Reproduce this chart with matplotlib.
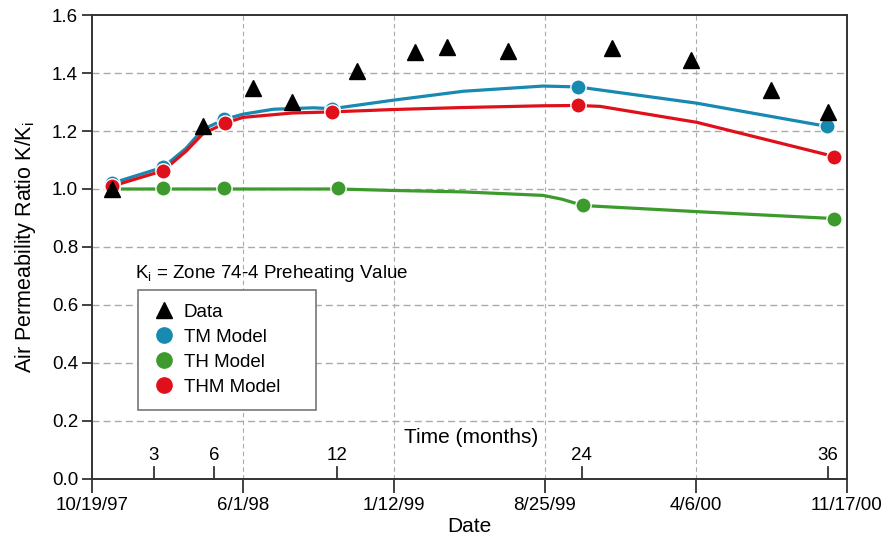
import pandas as pd
import numpy as np
import matplotlib
matplotlib.use('Agg')
import matplotlib.pyplot as plt
from matplotlib.lines import Line2D

plt.rcParams['font.family'] = ['Liberation Sans', 'DejaVu Sans']

START = pd.Timestamp('1997-10-19')

# measured permeability ratio (days after start, K/Ki)
data_days = [30, 165, 240, 298, 395, 481, 529, 620, 775, 893, 1012, 1097]
data_vals = [1.0, 1.216, 1.347, 1.30, 1.406, 1.472, 1.489, 1.476, 1.485, 1.444, 1.341, 1.265]

# model output curves
tm_curve_days = [30, 106, 140, 165, 197, 225, 270, 330, 358, 448, 553, 672, 724, 901, 1095]
tm_curve_vals = [1.02, 1.075, 1.14, 1.205, 1.24, 1.258, 1.275, 1.28, 1.277, 1.306, 1.337, 1.355, 1.352, 1.296, 1.216]
th_curve_days = [30, 106, 196, 367, 448, 553, 672, 700, 732, 901, 1106]
th_curve_vals = [1.0, 1.0, 1.0, 1.0, 0.995, 0.99, 0.978, 0.965, 0.943, 0.922, 0.898]
thm_curve_days = [30, 106, 140, 165, 198, 225, 298, 358, 448, 553, 672, 724, 757, 901, 1106]
thm_curve_vals = [1.01, 1.063, 1.13, 1.19, 1.227, 1.247, 1.262, 1.266, 1.274, 1.281, 1.287, 1.288, 1.285, 1.23, 1.112]

# model output at the reported times
tm_days = [30, 106, 197, 358, 724, 1095]
tm_vals = [1.02, 1.075, 1.24, 1.277, 1.352, 1.216]
th_days = [30, 106, 196, 367, 732, 1106]
th_vals = [1.0, 1.002, 1.002, 1.002, 0.944, 0.897]
thm_days = [30, 106, 198, 358, 724, 1106]
thm_vals = [1.01, 1.063, 1.227, 1.266, 1.288, 1.112]

date_ticks = ['10/19/97', '6/1/98', '1/12/99', '8/25/99', '4/6/00', '11/17/00']
month_ticks = [3, 6, 12, 24, 36]
y_ticks = [0.0, 0.2, 0.4, 0.6, 0.8, 1.0, 1.2, 1.4, 1.6]

BLUE = '#1889b0'
GREEN = '#3c9b2c'
RED = '#e0101a'


def to_dates(days):
    return START + pd.to_timedelta(days, unit='D')


fig = plt.figure(figsize=(8.83, 5.38), dpi=100)
ax = fig.add_axes([0.1042, 0.1097, 0.855, 0.8624])

tick_dates = pd.to_datetime(date_ticks, format='%m/%d/%y')
ax.set_xlim(tick_dates[0], tick_dates[-1])
ax.set_ylim(0, 1.6)

# grid
for y in y_ticks[1:-1]:
    ax.axhline(y, color='#aaaaaa', lw=1.0, ls=(0, (5, 3)), zorder=0)
for d in tick_dates[1:-1]:
    ax.axvline(d, color='#aaaaaa', lw=0.8, ls=(0, (4, 3)), zorder=0)

for days, vals, c in [(th_curve_days, th_curve_vals, GREEN),
                      (tm_curve_days, tm_curve_vals, BLUE),
                      (thm_curve_days, thm_curve_vals, RED)]:
    ax.plot(to_dates(days), vals, color=c, lw=2.3, solid_capstyle='round', zorder=2)

for days, vals, c in [(th_days, th_vals, GREEN),
                      (tm_days, tm_vals, BLUE),
                      (thm_days, thm_vals, RED)]:
    ax.plot(to_dates(days), vals, 'o', color=c, ms=11, mec='white', mew=1.0, zorder=3)

ax.plot(to_dates(data_days), data_vals, '^', color='black', ms=11.5, ls='none', zorder=4)

ax.set_xticks(tick_dates)
ax.set_xticklabels(date_ticks)
ax.set_yticks(y_ticks)
ax.set_yticklabels(['%.1f' % v for v in y_ticks])
ax.tick_params(axis='both', labelsize=13.5, direction='out', width=1.3, color='#333333')
ax.tick_params(axis='x', length=10, pad=3)
ax.tick_params(axis='y', length=7, pad=3)
for s in ax.spines.values():
    s.set_color('#333333')
    s.set_linewidth(1.4)

# elapsed time ticks inside the axes
for m in month_ticks:
    d = START + pd.DateOffset(months=m)
    ax.plot([d, d], [0, 0.042], color='#333333', lw=1.3, clip_on=False, zorder=5)
    ax.text(d, 0.052, str(m), ha='center', va='bottom', fontsize=13.5)
ax.text(START + pd.Timedelta(days=565), 0.11, 'Time (months)', ha='center',
        va='bottom', fontsize=15)

ax.set_xlabel('Date', fontsize=15, labelpad=2)
ax.set_ylabel('Air Permeability Ratio K/K$_\\mathregular{i}$', fontsize=15.5, labelpad=10)

ax.text(START + pd.Timedelta(days=64), 0.71, 'K$_\\mathregular{i}$ = Zone 74-4 Preheating Value',
        fontsize=13.5, va='center', ha='left')

handles = [
    Line2D([], [], marker='^', color='black', ls='none', ms=11),
    Line2D([], [], marker='o', color=BLUE, ls='none', ms=11),
    Line2D([], [], marker='o', color=GREEN, ls='none', ms=11),
    Line2D([], [], marker='o', color=RED, ls='none', ms=11),
]
leg = ax.legend(handles, ['Data', 'TM Model', 'TH Model', 'THM Model'],
                loc='upper left', bbox_to_anchor=(0.061, 0.0, 0.236, 0.408),
                mode='expand', borderaxespad=0, fontsize=13.5,
                frameon=True, fancybox=False, edgecolor='#777777', framealpha=1,
                handletextpad=0.4, labelspacing=0.42, borderpad=0.75, handlelength=1.3)
leg.get_frame().set_linewidth(1.2)

fig.savefig('out.png', dpi=100)
